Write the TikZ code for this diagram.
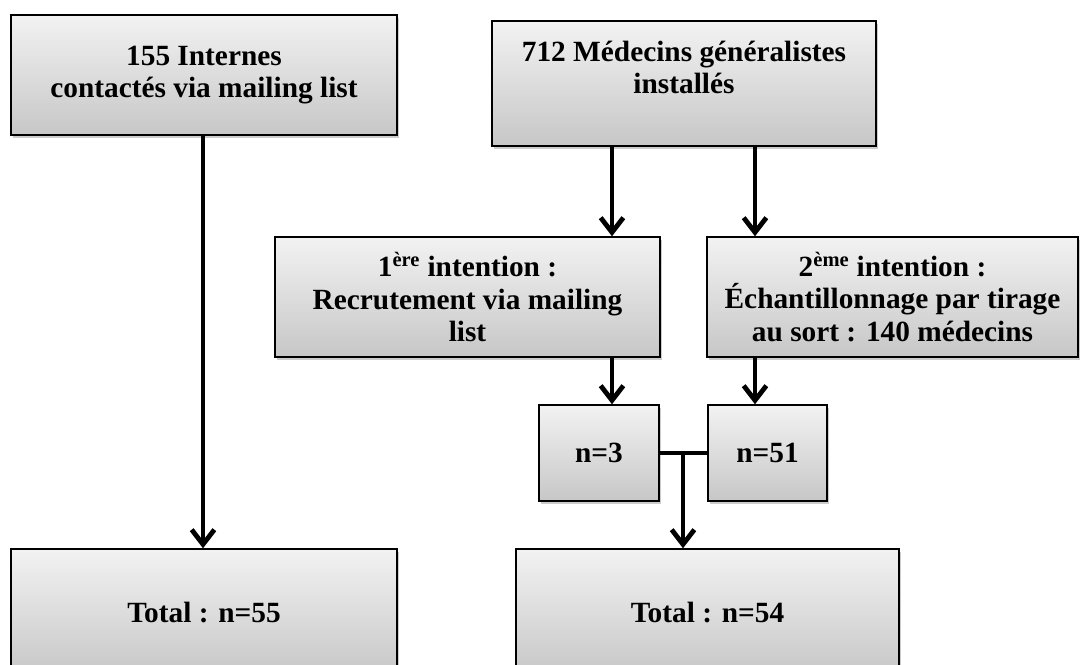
\documentclass[tikz,border=0pt]{standalone}
\usepackage{fontspec}
\setmainfont{Liberation Serif}
\usetikzlibrary{arrows.meta,shadows}
\begin{document}
\begin{tikzpicture}[x=0.75pt,y=-0.75pt,
  box/.style={draw=black,line width=1.1pt,top color=black!5,bottom color=black!22,
    drop shadow={shadow xshift=1.2pt,shadow yshift=-2.4pt,opacity=0.4},
    align=center,font=\fontsize{22}{24.5}\selectfont\bfseries,inner sep=0pt},
  conn/.style={line width=3.6pt,-{Straight Barb[length=11pt,width=17pt]}},
  link/.style={line width=3.6pt}]
\clip (0,0) rectangle (1080,664);
\fill[white] (0,0) rectangle (1080,664);
\node[box,minimum width=289.5pt,minimum height=90pt] (A) at (204,75)
  {155 Internes\\contactés via mailing list};
\node[box,minimum width=288pt,minimum height=93.75pt] (B) at (684,83.5)
  {712 Médecins généralistes\\installés\\\mbox{}};
\node[box,minimum width=288.75pt,minimum height=90pt] (C) at (467.5,297)
  {1\textsuperscript{ère} intention :\\Recrutement via mailing\\list};
\node[box,minimum width=278.25pt,minimum height=90pt] (D) at (892.5,297)
  {2\textsuperscript{ème} intention :\\Échantillonnage par tirage\\au sort : 140 médecins};
\node[box,minimum width=90pt,minimum height=72pt] (n3) at (599,453) {n=3};
\node[box,minimum width=89.25pt,minimum height=72pt] (n51) at (767.5,453) {n=51};
\node[box,minimum width=289.5pt,minimum height=95.25pt] (T55) at (204,612.5) {Total : n=55};
\node[box,minimum width=287.25pt,minimum height=95.25pt] (T54) at (707.5,612.5) {Total : n=54};
\coordinate (p0) at (203,0);
\coordinate (p1) at (612,0);
\coordinate (p2) at (755,0);
\coordinate (j) at (683,453);
\draw[conn] (A.south -| p0) -- (T55.north -| p0);
\draw[conn] (B.south -| p1) -- (C.north -| p1);
\draw[conn] (B.south -| p2) -- (D.north -| p2);
\draw[conn] (C.south -| p1) -- (n3.north -| p1);
\draw[conn] (D.south -| p2) -- (n51.north -| p2);
\draw[link] (n3.east) -- (n51.west);
\draw[conn] (j) -- (T54.north -| j);
\end{tikzpicture}
\end{document}
